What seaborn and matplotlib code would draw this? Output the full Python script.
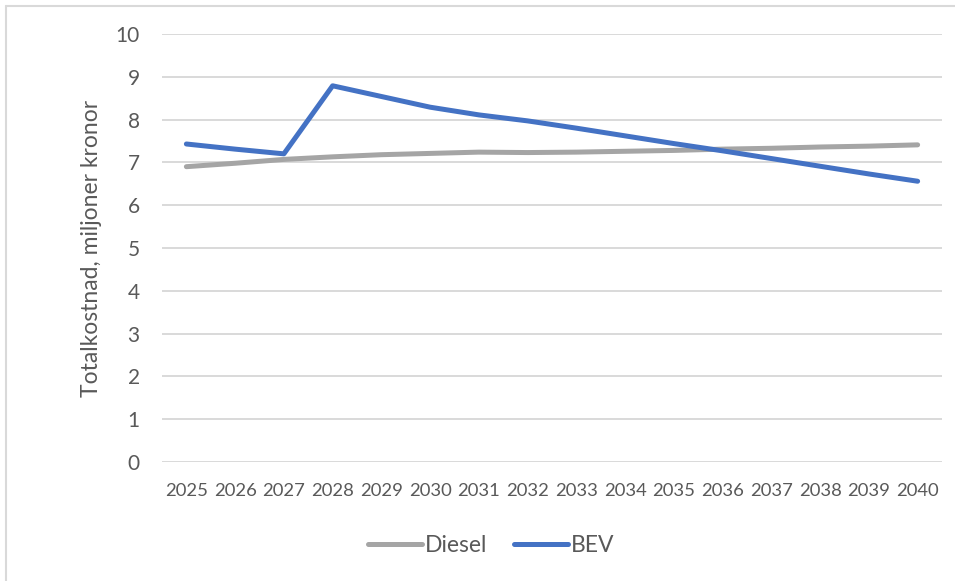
import matplotlib
matplotlib.use("Agg")
import matplotlib.pyplot as plt
from matplotlib.lines import Line2D
import pandas as pd
import seaborn as sns

years = [str(y) for y in range(2025, 2041)]
diesel = [6.90, 6.98, 7.07, 7.13, 7.18, 7.21, 7.24, 7.23, 7.24, 7.26, 7.28, 7.31, 7.33, 7.36, 7.38, 7.41]
bev = [7.43, 7.31, 7.20, 8.79, 8.54, 8.29, 8.11, 7.97, 7.80, 7.62, 7.44, 7.27, 7.09, 6.91, 6.73, 6.56]
series_names = ["Diesel", "BEV"]
y_ticks = list(range(0, 11))
y_label = "Totalkostnad, miljoner kronor"

df = pd.concat([
    pd.DataFrame({"År": years, "Kostnad": diesel, "Drivlina": series_names[0]}),
    pd.DataFrame({"År": years, "Kostnad": bev, "Drivlina": series_names[1]}),
])

sns.set_theme(style="white")
plt.rcParams["font.family"] = ["Lato", "DejaVu Sans"]
text_color = "#595959"
grid_color = "#D9D9D9"

fig = plt.figure(figsize=(9.55, 5.81), dpi=100)
ax = fig.add_axes([162 / 955, (581 - 462) / 581, 780 / 955, 428 / 581])

palette = {"Diesel": "#A5A5A5", "BEV": "#4472C4"}
sns.lineplot(data=df, x="År", y="Kostnad", hue="Drivlina", palette=palette,
             linewidth=3.6, sort=False, ax=ax)
for line in ax.get_lines():
    line.set_solid_capstyle("round")
    line.set_solid_joinstyle("round")

ax.set_xlim(-0.5, len(years) - 0.5)
ax.set_ylim(0, 10)
ax.set_yticks(y_ticks)
ax.set_yticklabels([str(t) for t in y_ticks])
ax.yaxis.grid(True, color=grid_color, linewidth=1.4)
ax.set_axisbelow(True)
ax.xaxis.grid(False)
for s in ax.spines.values():
    s.set_visible(False)
ax.tick_params(axis="both", length=0, labelcolor=text_color)
ax.tick_params(axis="x", labelsize=13.3, pad=15)
ax.tick_params(axis="y", labelsize=15, pad=16)
ax.set_xlabel("")
ax.set_ylabel(y_label, fontsize=16.5, color=text_color)
ax.yaxis.set_label_coords(-0.077, 0.5)

sns.move_legend(ax, "center", bbox_to_anchor=(0.422, -0.195), ncol=2, frameon=False,
                title=None, fontsize=16.5, handlelength=2.35, handletextpad=0.12,
                columnspacing=1.2)
for t in ax.get_legend().get_texts():
    t.set_color(text_color)
for h in ax.get_legend().legend_handles:
    h.set_linewidth(3.6)
    h.set_solid_capstyle("round")

# outer chart frame (top and left edges)
fig.add_artist(Line2D([6 / 955, 1.0], [1 - 6 / 581, 1 - 6 / 581], color=grid_color, linewidth=1.5,
                      transform=fig.transFigure))
fig.add_artist(Line2D([6 / 955, 6 / 955], [0.0, 1 - 6 / 581], color=grid_color, linewidth=1.5,
                      transform=fig.transFigure))

fig.savefig("out.png", dpi=100, facecolor="white")
